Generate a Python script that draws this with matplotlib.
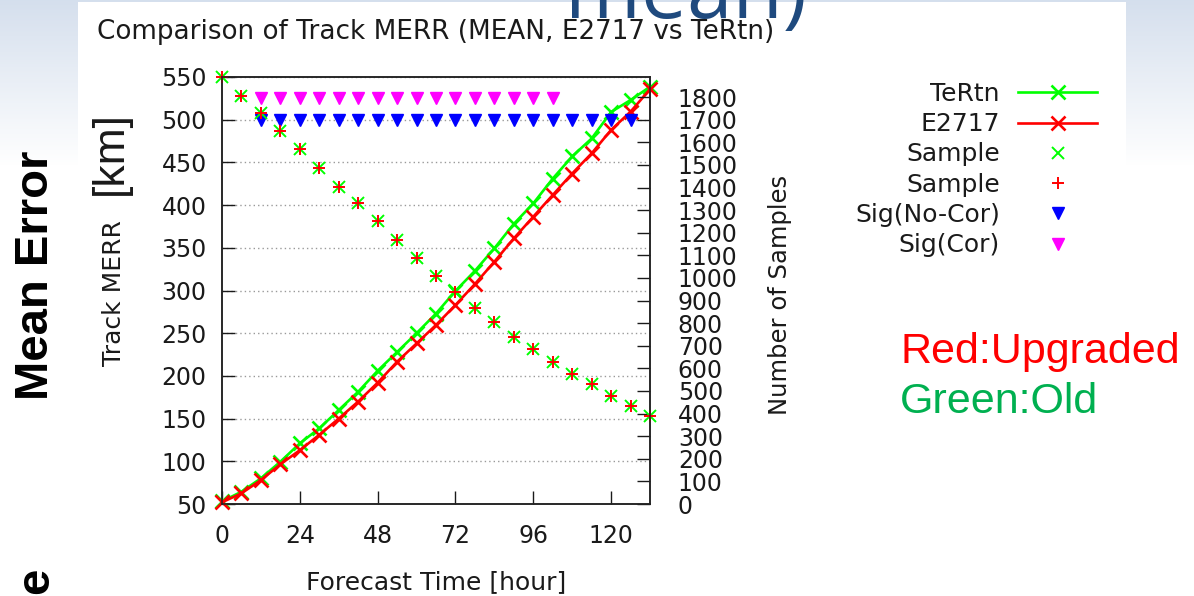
import numpy as np
import matplotlib
matplotlib.use("Agg")
import matplotlib.pyplot as plt

# ---- data -------------------------------------------------------------
hours = [0, 6, 12, 18, 24, 30, 36, 42, 48, 54, 60, 66,
         72, 78, 84, 90, 96, 102, 108, 114, 120, 126, 132]
tertn_err = [53, 64.4, 80, 99.5, 121, 138.6, 160, 181.5, 206, 228, 250, 273,
             299.5, 323, 349.4, 378, 402, 431, 457, 478, 509, 523, 538.6]
e2717_err = [52, 62.5, 78, 96.5, 113, 131, 150, 170, 192, 216.6, 238, 259.6,
             283, 307.6, 333.7, 361, 386.4, 411.8, 437, 460.6, 488, 509.4, 535.6]
n_samples = [1888, 1806, 1731, 1650, 1569, 1485, 1404, 1330, 1252, 1167, 1088, 1009,
             940, 867, 807, 740, 686, 630, 575, 530, 478, 434, 389]
sig_nocor_hours = [12, 18, 24, 30, 36, 42, 48, 54, 60, 66, 72, 78,
                   84, 90, 96, 102, 108, 114, 120, 126]
sig_cor_hours = [12, 18, 24, 30, 36, 42, 48, 54, 60, 66, 72, 78,
                 84, 90, 96, 102]
sig_nocor_level = 500
sig_cor_level = 525

x_ticks = [0, 24, 48, 72, 96, 120]
y_ticks = [50, 100, 150, 200, 250, 300, 350, 400, 450, 500, 550]
y2_ticks = [0, 100, 200, 300, 400, 500, 600, 700, 800, 900, 1000,
            1100, 1200, 1300, 1400, 1500, 1600, 1700, 1800]

title = "Comparison of Track MERR (MEAN, E2717 vs TeRtn)"

# ---- figure -----------------------------------------------------------
W, H = 1194, 596
fig = plt.figure(figsize=(W / 100, H / 100), dpi=100)
fig.patch.set_facecolor("white")


def fx(px):
    return px / W


def fy(py):
    return 1 - py / H


# slide background: pale blue gradient at the edges around the white chart
bg = fig.add_axes([0, 0, 1, 1], zorder=-10)
bg.set_axis_off()
img = np.ones((H, W, 3))
top_col = np.array([0.835, 0.875, 0.93])
t = np.clip(np.arange(H) / 165.0, 0, 1)[:, None]
grad = top_col * (1 - t) + t
edge = np.zeros(W, bool)
edge[:78] = True
edge[1126:] = True
img[:, edge, :] = grad[:, None, :]
img[:2, :, :] = grad[:2][:, None, :]
bg.imshow(img, extent=(0, W, H, 0), aspect="auto", interpolation="bilinear")
bg.set_xlim(0, W)
bg.set_ylim(H, 0)

TXT = "#1a1a1a"
ax = fig.add_axes([fx(222), fy(504), (650 - 222) / W, (504 - 77) / H])
ax.set_facecolor("white")
ax2 = ax.twinx()

l_tertn, = ax.plot(hours, tertn_err, color="#00FF00", lw=1.9, marker="x",
                   ms=9.5, mew=1.9, label="TeRtn", clip_on=False, zorder=3)
l_e2717, = ax.plot(hours, e2717_err, color="#FF0000", lw=1.9, marker="x",
                   ms=9.5, mew=1.9, label="E2717", clip_on=False, zorder=3)
l_nocor, = ax.plot(sig_nocor_hours, [sig_nocor_level] * len(sig_nocor_hours),
                   ls="none", marker="v", color="#0000FF", ms=9,
                   label="Sig(No-Cor)", clip_on=False, zorder=4)
l_cor, = ax.plot(sig_cor_hours, [sig_cor_level] * len(sig_cor_hours),
                 ls="none", marker="v", color="#FF00FF", ms=9,
                 label="Sig(Cor)", clip_on=False, zorder=4)

s_green, = ax2.plot(hours, n_samples, ls="none", marker="x", color="#00FF00",
                    ms=8, mew=1.4, label="Sample", clip_on=False)
s_red, = ax2.plot(hours, n_samples, ls="none", marker="+", color="#FF0000",
                  ms=8.5, mew=1.4, label="Sample", clip_on=False)

ax.set_xlim(0, 132)
ax.set_ylim(50, 550)
ax2.set_ylim(0, 1889)

ax.set_xticks(x_ticks)
ax.set_yticks(y_ticks)
ax2.set_yticks(y2_ticks)

ax.tick_params(axis="both", direction="in", length=9.4, width=1,
               labelsize=17, colors=TXT)
ax.tick_params(axis="y", left=True, right=False, pad=11)
ax.tick_params(axis="x", bottom=True, top=False, pad=14.4)
ax2.tick_params(axis="y", direction="in", length=9.4, width=1,
                labelsize=17, colors=TXT, pad=20)

ax.yaxis.grid(True, color="#9a9a9a", ls=(0, (1, 2.2)), lw=1)
ax.set_axisbelow(True)

for a in (ax, ax2):
    for s in a.spines.values():
        s.set_linewidth(1.1)
        s.set_color("#222222")

ax.set_ylabel("Track MERR", fontsize=18, color=TXT)
ax.yaxis.set_label_coords((126 - 222) / 428, (504 - 293) / 427)
ax2.set_ylabel("Number of Samples", fontsize=17.5, color=TXT)
ax2.yaxis.set_label_coords((768 - 222) / 428, (504 - 295) / 427)
ax.set_xlabel("Forecast Time [hour]", fontsize=18, color=TXT)
ax.xaxis.set_label_coords((436.5 - 222) / 428, (504 - 570) / 427)

fig.text(fx(97), fy(19), title, ha="left", va="top", fontsize=18.9, color=TXT)

fig.legend([l_tertn, l_e2717, s_green, s_red, l_nocor, l_cor],
           ["TeRtn", "E2717", "Sample", "Sample", "Sig(No-Cor)", "Sig(Cor)"],
           loc="upper right", bbox_to_anchor=(fx(1097), fy(82)),
           bbox_transform=fig.transFigure, markerfirst=False, frameon=False,
           fontsize=18, handlelength=3.16, handletextpad=0.72,
           labelspacing=0.25, borderpad=0, borderaxespad=0, numpoints=1,
           labelcolor=TXT)

# slide annotations around the chart
fig.text(fx(48), fy(275), "Mean Error", rotation=90, rotation_mode="anchor",
         ha="center", va="baseline", fontsize=34, fontweight="bold",
         family="Liberation Sans", color="black")
fig.text(fx(48), fy(581), "e", rotation=90, rotation_mode="anchor",
         ha="center", va="baseline", fontsize=34, fontweight="bold",
         family="Liberation Sans", color="black")
fig.text(fx(122), fy(153), "[km]", rotation=90, rotation_mode="anchor",
         ha="center", va="baseline", fontsize=32,
         family="Liberation Sans", color=TXT)
fig.text(fx(565), fy(18), "mean)", ha="left", va="baseline", fontsize=59,
         family="Open Sans", color="#1F4A7E", zorder=20)
fig.text(fx(900), fy(363), "Red:Upgraded", ha="left", va="baseline",
         fontsize=31, family="Liberation Sans", color="#FF0000")
fig.text(fx(900), fy(413), "Green:Old", ha="left", va="baseline",
         fontsize=31, family="Liberation Sans", color="#00B050")

fig.savefig("out.png", dpi=100)
